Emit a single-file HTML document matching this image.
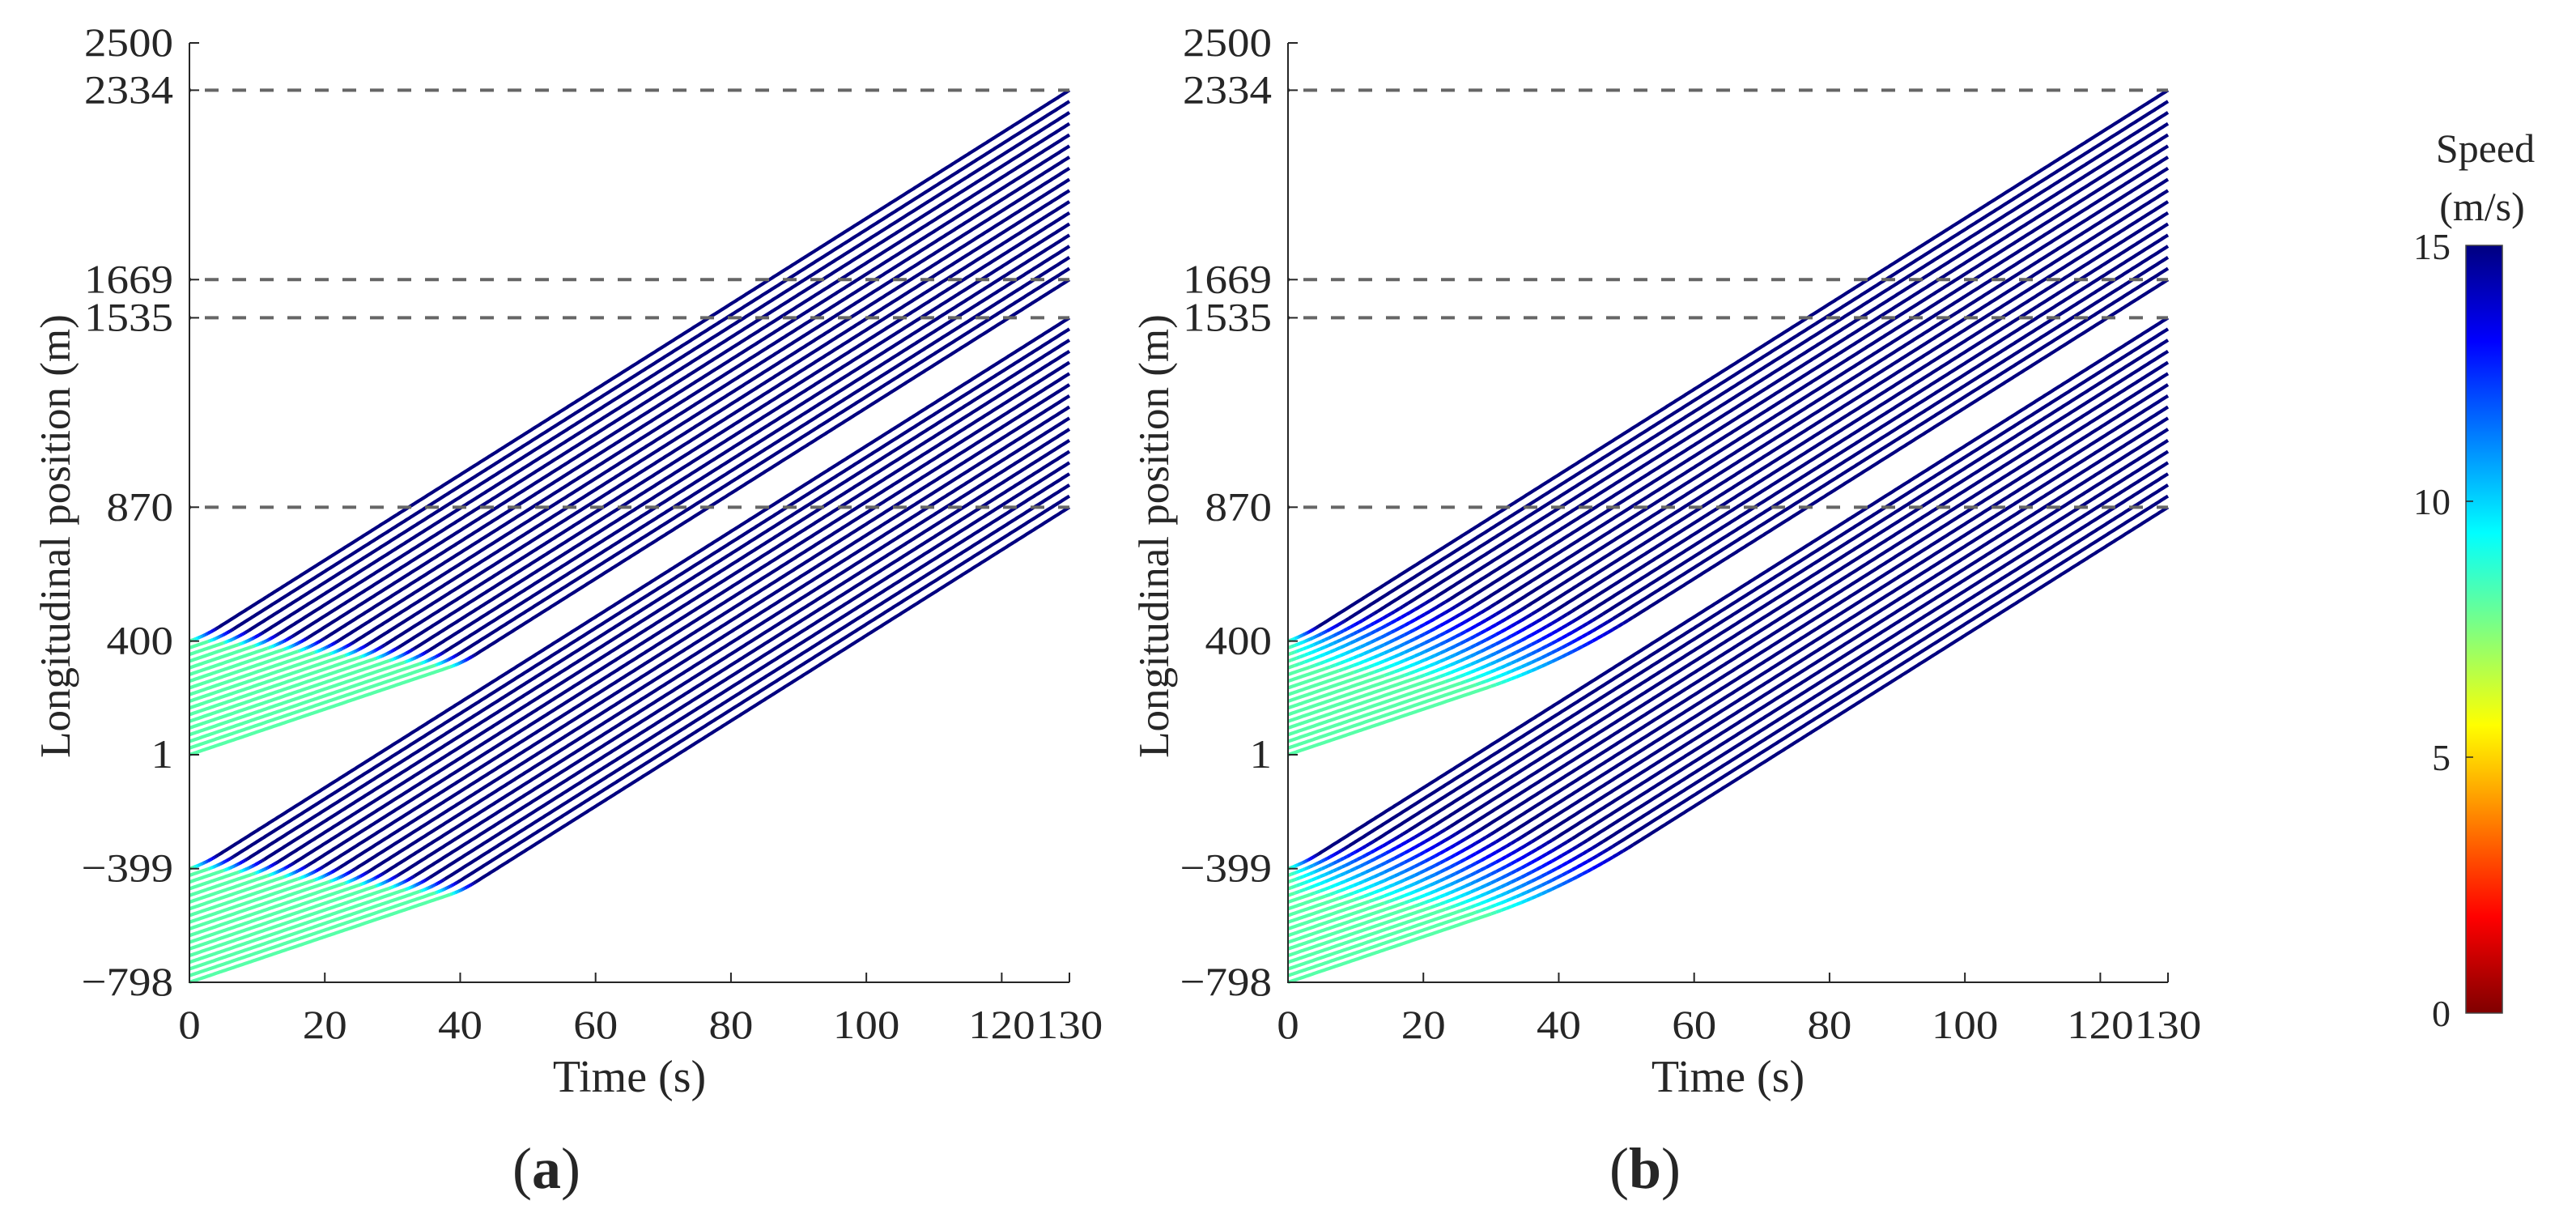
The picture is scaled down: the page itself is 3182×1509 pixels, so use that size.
<!DOCTYPE html>
<html><head><meta charset="utf-8">
<style>
html,body{margin:0;padding:0;background:#fff;}
svg{display:block;}
text{font-family:"Liberation Serif","Times New Roman",serif;fill:#262626;}
</style></head>
<body>
<svg id="fig" width="3182" height="1509" viewBox="0 0 3182 1509" xmlns="http://www.w3.org/2000/svg">
<defs>
<linearGradient id="jet" x1="0" y1="0" x2="0" y2="1">
<stop offset="0" stop-color="#000080"/>
<stop offset="0.125" stop-color="#0000ff"/>
<stop offset="0.375" stop-color="#00ffff"/>
<stop offset="0.625" stop-color="#ffff00"/>
<stop offset="0.875" stop-color="#ff0000"/>
<stop offset="1" stop-color="#800000"/>
</linearGradient>
</defs>
<g id="panelA"></g>
<g id="panelB"></g>
<g id="cbar">
<rect x="3046" y="303" width="45" height="948" fill="url(#jet)" stroke="#444" stroke-width="1.5"/>
<line x1="3046" y1="619" x2="3055" y2="619" stroke="#262626" stroke-width="1.5"/>
<line x1="3046" y1="935" x2="3055" y2="935" stroke="#262626" stroke-width="1.5"/>
<text x="3027" y="320" font-size="46" text-anchor="end">15</text>
<text x="3027" y="635" font-size="46" text-anchor="end">10</text>
<text x="3027" y="951" font-size="46" text-anchor="end">5</text>
<text x="3027" y="1267" font-size="46" text-anchor="end">0</text>
<text x="3070" y="200" font-size="50" text-anchor="middle" fill="#000">Speed</text>
<text x="3066" y="272" font-size="50" text-anchor="middle" fill="#000">(m/s)</text>
</g>
</svg>
<script>
// ---- data ----
const startGroup1 = [400,376.5,353.1,329.6,306.1,282.6,259.2,235.7,212.2,188.8,165.3,141.8,118.4,94.9,71.4,47.9,24.5,1];
const startGroup2 = [-399,-422.5,-445.9,-469.4,-492.9,-516.4,-539.8,-563.3,-586.8,-610.2,-633.7,-657.2,-680.6,-704.1,-727.6,-751.1,-774.5,-798];
const switchTimes = [2.3,4.54,6.77,9.01,11.24,13.48,15.71,17.95,20.18,22.42,24.65,26.89,29.12,31.36,33.59,35.83,38.06,40.3];
const initialSpeed = [8];
const finalSpeed = [15];
const accelDurations = [4, 22];   // panel a, panel b
const refLines = [2334,1669,1535,870];
const yTicks = [2500,2334,1669,1535,870,400,1,-399,-798];
const xTicks = [0,20,40,60,80,100,120,130];
const panelLabels = ['a','b'];

const NS = 'http://www.w3.org/2000/svg';
const Y0 = 53, Y1 = 1213, YMAX = 2500, YMIN = -798;
const TMAX = 130, W = 1087;
function yScale(v){ return Y0 + (YMAX - v) * (Y1 - Y0) / (YMAX - YMIN); }
function jet(v){
  const x = Math.max(0, Math.min(1, 1 - v / 15));
  const q = Math.round(x * 63) / 63;
  const c = k => Math.round(255 * Math.max(0, Math.min(1, 1.5 - Math.abs(4 * q - k))));
  return 'rgb(' + c(3) + ',' + c(2) + ',' + c(1) + ')';
}

function drawPanel(g, x0, pi){
  const xScale = t => x0 + t * W / TMAX;
  const v0 = initialSpeed[0], v1 = finalSpeed[0];
  const vehicles = [];
  startGroup1.forEach((p, i) => vehicles.push({p: p, ts: switchTimes[i], grp: 1, i: i}));
  startGroup2.forEach((p, i) => vehicles.push({p: p, ts: switchTimes[i], grp: 2, i: i}));
  vehicles.forEach(veh => {
    const tA = Math.max(0, veh.ts - accelDurations[pi] / 2);
    const D = 2 * (veh.ts - tA);
    const speed = t => t < tA ? v0 : (t < tA + D ? v0 + (v1 - v0) * (t - tA) / D : v1);
    const dt = 0.25;
    let pos = veh.p, t = 0;
    let runColor = null, runPts = [];
    const flush = () => {
      if (runPts.length > 1) {
        const pl = document.createElementNS(NS, 'polyline');
        
        
        pl.setAttribute('points', runPts.join(' '));
        pl.setAttribute('fill', 'none');
        pl.setAttribute('stroke', runColor);
        pl.setAttribute('stroke-width', '4.2');
        g.appendChild(pl);
      }
    };
    runPts.push(xScale(0).toFixed(1) + ',' + yScale(pos).toFixed(1));
    while (t < TMAX - 1e-9) {
      const va = speed(t), vb = speed(t + dt);
      const col = jet((va + vb) / 2);
      pos += (va + vb) / 2 * dt;
      t += dt;
      const pt = xScale(t).toFixed(1) + ',' + yScale(pos).toFixed(1);
      if (runColor !== null && col !== runColor) {
        const last = runPts[runPts.length - 1];
        flush();
        runPts = [last];
      }
      runColor = col;
      runPts.push(pt);
    }
    flush();
  });
  refLines.forEach(v => {
    const l = document.createElementNS(NS, 'line');
    
    
    l.setAttribute('x1', x0); l.setAttribute('x2', x0 + W);
    l.setAttribute('y1', yScale(v)); l.setAttribute('y2', yScale(v));
    l.setAttribute('stroke', '#666');
    l.setAttribute('stroke-width', '4');
    l.setAttribute('stroke-dasharray', '17 17');
    l.setAttribute('stroke-dashoffset', '-19');
    g.appendChild(l);
  });
  const ax = document.createElementNS(NS, 'path');
  
  
  ax.setAttribute('d', 'M' + x0 + ',' + Y0 + ' V' + Y1 + ' H' + (x0 + W));
  ax.setAttribute('fill', 'none'); ax.setAttribute('stroke', '#262626'); ax.setAttribute('stroke-width', '2');
  g.appendChild(ax);
  yTicks.forEach(v => {
    const y = yScale(v);
    const tk = document.createElementNS(NS, 'line');
    
    
    tk.setAttribute('x1', x0); tk.setAttribute('x2', x0 + 12); tk.setAttribute('y1', y); tk.setAttribute('y2', y);
    tk.setAttribute('stroke', '#262626'); tk.setAttribute('stroke-width', '2');
    g.appendChild(tk);
    const tx = document.createElementNS(NS, 'text');
    
    
    tx.setAttribute('transform', 'translate(' + (x0 - 20) + ',' + (y + 16) + ') scale(1.1,1)');
    tx.setAttribute('font-size', '50');
    tx.setAttribute('text-anchor', 'end');
    tx.textContent = v < 0 ? '\u2212' + (-v) : String(v);
    g.appendChild(tx);
  });
  xTicks.forEach(v => {
    const x = xScale(v);
    const tk = document.createElementNS(NS, 'line');
    
    
    tk.setAttribute('x1', x); tk.setAttribute('x2', x); tk.setAttribute('y1', Y1); tk.setAttribute('y2', Y1 - 12);
    tk.setAttribute('stroke', '#262626'); tk.setAttribute('stroke-width', '2');
    g.appendChild(tk);
    const tx = document.createElementNS(NS, 'text');
    
    
    tx.setAttribute('transform', 'translate(' + x + ',1282) scale(1.1,1)');
    tx.setAttribute('font-size', '50');
    tx.setAttribute('text-anchor', 'middle');
    tx.textContent = String(v);
    g.appendChild(tx);
  });
  const xl = document.createElementNS(NS, 'text');
  
  
  xl.setAttribute('x', x0 + W / 2); xl.setAttribute('y', 1348);
  xl.setAttribute('font-size', '56'); xl.setAttribute('text-anchor', 'middle');
  xl.textContent = 'Time (s)';
  g.appendChild(xl);
  const yl = document.createElementNS(NS, 'text');
  
  
  yl.setAttribute('transform', 'translate(' + (x0 - 148) + ',662) rotate(-90)');
  yl.setAttribute('font-size', '53'); yl.setAttribute('text-anchor', 'middle');
  yl.textContent = 'Longitudinal position (m)';
  g.appendChild(yl);
  const pl = document.createElementNS(NS, 'text');
  
  
  pl.setAttribute('x', x0 + 441); pl.setAttribute('y', 1467);
  pl.setAttribute('font-size', '72'); pl.setAttribute('text-anchor', 'middle');
  pl.setAttribute('fill', '#000');
  pl.innerHTML = '(<tspan font-weight="bold">' + panelLabels[pi] + '</tspan>)';
  g.appendChild(pl);
}
drawPanel(document.getElementById('panelA'), 234, 0);
drawPanel(document.getElementById('panelB'), 1591, 1);
</script>
</body></html>
